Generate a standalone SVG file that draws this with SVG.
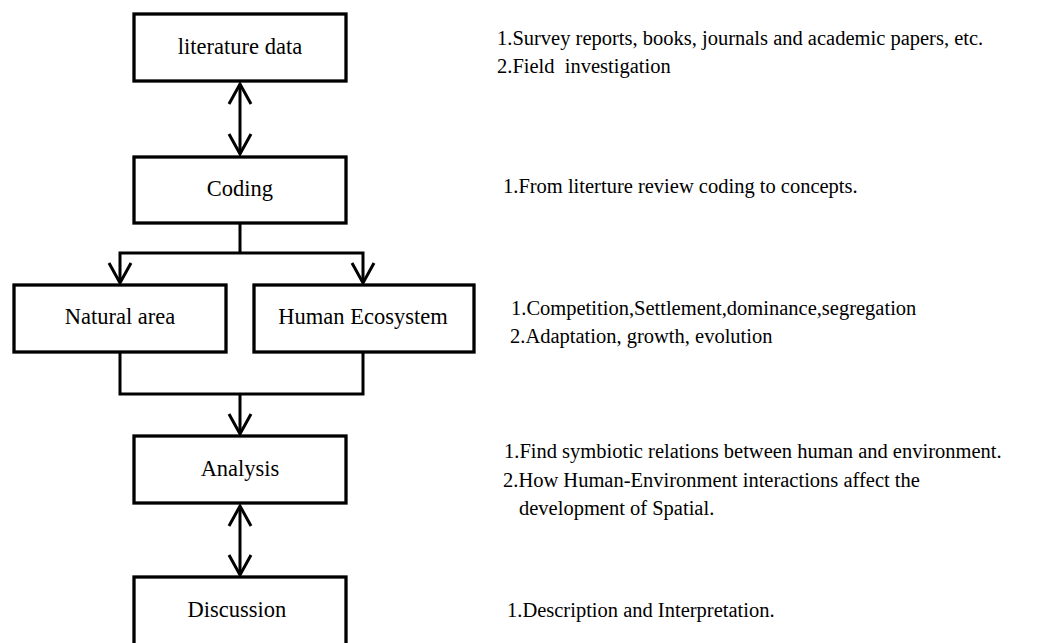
<svg xmlns="http://www.w3.org/2000/svg" width="1059" height="643" viewBox="0 0 1059 643">
<style>
.box{fill:#fff;stroke:#000;stroke-width:3.3}
.lbl{font-family:"Liberation Serif","Times New Roman",serif;font-size:22.5px;fill:#000;text-anchor:middle}
.note{font-family:"Liberation Serif","Times New Roman",serif;font-size:20.5px;fill:#000}
.ln{fill:none;stroke:#000;stroke-width:3}
.ah{fill:none;stroke:#000;stroke-width:3;stroke-linecap:butt;stroke-linejoin:miter}
</style>
<rect width="1059" height="643" fill="#fff"/>
<g id="connectors">
<line class="ln" x1="240" y1="84" x2="240" y2="154"/>
<polyline class="ah" points="229,104 240,84 251,104"/>
<polyline class="ah" points="229,134 240,154 251,134"/>
<polyline class="ln" points="240,223 240,253"/>
<polyline class="ln" points="120,282 120,253 363,253 363,282"/>
<polyline class="ah" points="109,263 120,283 131,263"/>
<polyline class="ah" points="352,263 363,283 374,263"/>
<polyline class="ln" points="120,352 120,394 363,394 363,352"/>
<line class="ln" x1="240" y1="394" x2="240" y2="433"/>
<polyline class="ah" points="229,414 240,434 251,414"/>
<line class="ln" x1="240" y1="506" x2="240" y2="575"/>
<polyline class="ah" points="229,526 240,506 251,526"/>
<polyline class="ah" points="229,555 240,575 251,555"/>
</g>
<g id="literature">
<rect class="box" x="134" y="14" width="212" height="67"/>
<text class="lbl" x="240" y="54">literature data</text>
</g>
<g id="coding">
<rect class="box" x="134" y="157" width="212" height="66"/>
<text class="lbl" x="240" y="196">Coding</text>
</g>
<g id="natural">
<rect class="box" x="14" y="285" width="212" height="67"/>
<text class="lbl" x="120" y="324">Natural area</text>
</g>
<g id="human">
<rect class="box" x="254" y="285" width="220" height="67"/>
<text class="lbl" x="363" y="324">Human Ecosystem</text>
</g>
<g id="analysis">
<rect class="box" x="134" y="436" width="212" height="67"/>
<text class="lbl" x="240" y="476">Analysis</text>
</g>
<g id="discussion">
<rect class="box" x="134" y="577" width="212" height="80"/>
<text class="lbl" x="237" y="617">Discussion</text>
</g>
<g id="notes">
<text class="note" x="497" y="45">1.Survey reports, books, journals and academic papers, etc.</text>
<text class="note" x="497" y="73" xml:space="preserve">2.Field  investigation</text>
<text class="note" x="503" y="193">1.From literture review coding to concepts.</text>
<text class="note" x="511" y="315">1.Competition,Settlement,dominance,segregation</text>
<text class="note" x="510" y="343">2.Adaptation, growth, evolution</text>
<text class="note" x="504" y="458">1.Find symbiotic relations between human and environment.</text>
<text class="note" x="503" y="487">2.How Human-Environment interactions affect the</text>
<text class="note" x="519" y="515">development of Spatial.</text>
<text class="note" x="507" y="617">1.Description and Interpretation.</text>
</g>
</svg>
